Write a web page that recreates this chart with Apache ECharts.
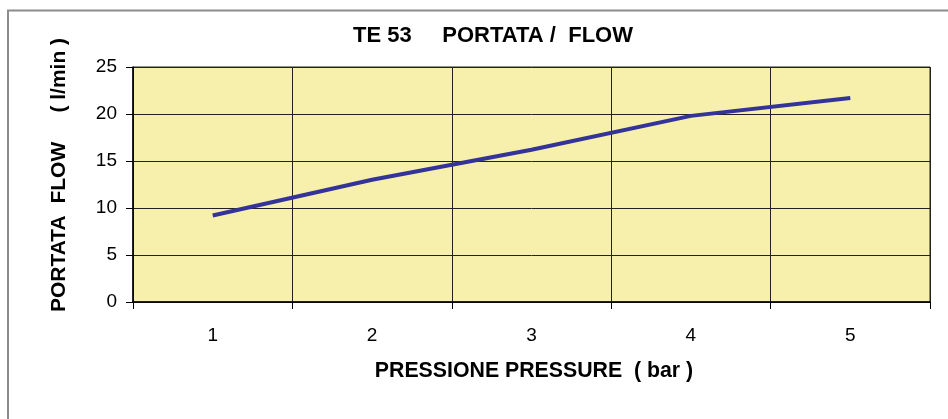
<!DOCTYPE html>
<html>
<head>
<meta charset="utf-8">
<script src="https://cdn.jsdelivr.net/npm/echarts@6/dist/echarts.min.js"></script>
<style>
  html, body { margin: 0; padding: 0; background: #fff; }
  #chart { width: 948px; height: 419px; }
</style>
</head>
<body>
<div id="chart"></div>
<script>
// pressione (bar) / portata (l/min)
const pressure = ['1', '2', '3', '4', '5']
const flow = [9.2, 13.0, 16.2, 19.8, 21.7]
const yTicks = { min: 0, max: 25, interval: 5 }

const chart = echarts.init(document.getElementById('chart'))
const fontFam = 'Liberation Sans, Arial, sans-serif'

chart.setOption({
  animation: false,
  backgroundColor: '#ffffff',
  title: {
    text: 'TE 53     PORTATA /  FLOW',
    left: 488,
    textAlign: 'center',
    top: 20,
    textStyle: { fontFamily: fontFam, fontSize: 22, fontWeight: 'bold', color: '#000' }
  },
  graphic: [
    {
      type: 'polyline',
      shape: { points: [[8, 425], [8, 10.5], [955, 10.5]] },
      style: { stroke: '#8c8c8c', lineWidth: 2, fill: null }
    },
    {
      type: 'text',
      x: 59,
      y: 175,
      rotation: Math.PI / 2,
      style: {
        text: 'PORTATA  FLOW     ( l/min )',
        fontFamily: fontFam,
        fontSize: 21,
        fontWeight: 'bold',
        fill: '#000',
        align: 'center',
        verticalAlign: 'middle'
      }
    },
    {
      type: 'text',
      x: 534,
      y: 371,
      style: {
        text: 'PRESSIONE PRESSURE  ( bar )',
        fontFamily: fontFam,
        fontSize: 21.3,
        fontWeight: 'bold',
        fill: '#000',
        align: 'center',
        verticalAlign: 'middle'
      }
    }
  ],
  grid: {
    left: 133,
    right: 18,
    top: 67,
    bottom: 117,
    show: true,
    backgroundColor: '#f6f0ac',
    borderColor: '#222',
    borderWidth: 1
  },
  xAxis: {
    type: 'category',
    data: pressure,
    boundaryGap: true,
    axisLine: { lineStyle: { color: '#000', width: 1.5 } },
    axisTick: { show: true, length: 7, lineStyle: { color: '#000' } },
    axisLabel: { margin: 24, color: '#000', fontFamily: fontFam, fontSize: 19 },
    splitLine: { show: true, lineStyle: { color: '#222', width: 1 } }
  },
  yAxis: {
    type: 'value',
    min: yTicks.min,
    max: yTicks.max,
    interval: yTicks.interval,
    axisLine: { show: true, lineStyle: { color: '#000', width: 1.5 } },
    axisTick: { show: true, length: 7, lineStyle: { color: '#000' } },
    axisLabel: { margin: 16, color: '#000', fontFamily: fontFam, fontSize: 19 },
    splitLine: { show: true, lineStyle: { color: '#222', width: 1 } }
  },
  series: [
    {
      type: 'line',
      data: flow,
      symbol: 'none',
      lineStyle: { color: '#333399', width: 4 }
    }
  ]
})
</script>
</body>
</html>
